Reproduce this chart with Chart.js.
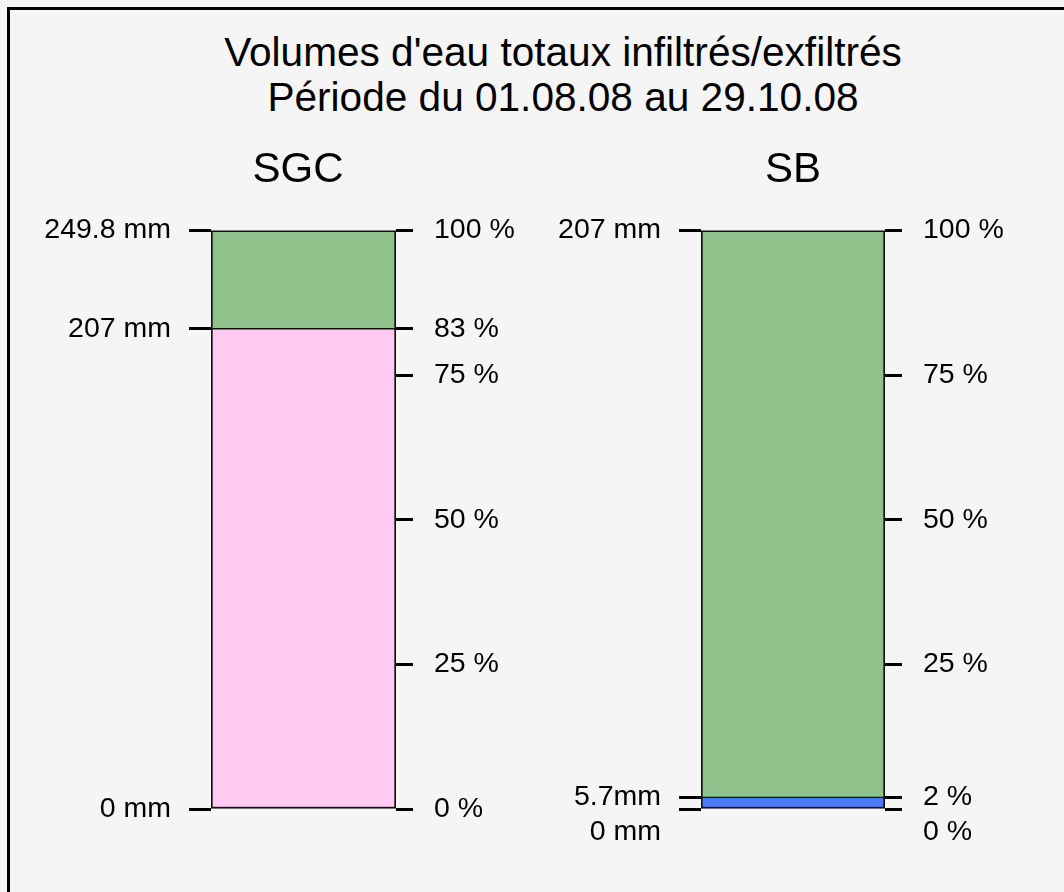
<!DOCTYPE html>
<html lang="fr">
<head>
<meta charset="utf-8">
<title>Volumes d'eau totaux infiltrés/exfiltrés</title>
<script src="https://cdn.jsdelivr.net/npm/chart.js@4/dist/chart.umd.min.js"></script>
<style>
  html, body { margin: 0; padding: 0; width: 1064px; height: 892px; overflow: hidden; background: #f5f5f5; }
  body { position: relative; font-family: "Liberation Sans", Arial, sans-serif; }
  #frame { position: absolute; left: 7px; top: 7px; width: 1200px; height: 1000px;
           border-left: 3px solid #000; border-top: 3px solid #000; box-sizing: border-box; }
  #title { position: absolute; left: 0; top: 30px; width: 1126px; text-align: center;
           font-size: 40.6px; line-height: 45px; color: #000; }
  canvas { position: absolute; }
  #sgc { left: 10px; top: 120px; }
  #sb  { left: 530px; top: 120px; }
</style>
</head>
<body>
<div id="frame"></div>
<div id="title">Volumes d'eau totaux infiltrés/exfiltrés<br>Période du 01.08.08 au 29.10.08</div>
<canvas id="sgc" width="576" height="769"></canvas>
<canvas id="sb" width="526" height="769"></canvas>
<script>
// Panel names
const panels = ['SGC', 'SB'];

// Shares of each bar, in percent of the bar's total volume
const sgcPink  = [83];   // 0 – 207 mm
const sgcGreen = [17];   // 207 – 249.8 mm
const sbBlue   = [2];    // 0 – 5.7 mm
const sbGreen  = [98];   // 5.7 – 207 mm

// Left axis: millimetre marks (position in percent, label)
const sgcMmAt     = [0, 83, 100];
const sgcMmLabels = ['0 mm', '207 mm', '249.8 mm'];
const sbMmAt      = [0, 2, 100];
const sbMmLabels  = ['0 mm', '5.7mm', '207 mm'];

// Right axis: percent marks
const sgcPctAt = [0, 25, 50, 75, 83, 100];
const sbPctAt  = [0, 2, 25, 50, 75, 100];

const GREEN = '#8EC28A';
const PINK  = '#FFC9F2';
const BLUE  = '#4A7BFF';
const INK   = '#000000';
const FONT  = '"Liberation Sans", Arial, sans-serif';

Chart.defaults.font.family = FONT;
Chart.defaults.color = INK;

// Builds one tall 100 % stacked bar with mm marks on the left and % marks on the right
function panelChart(canvasId, name, segments, mmAt, mmLabels, pctAt, leftWidth, rightWidth, dropZero) {
  // the zero labels of a crowded axis are pushed one half line below their mark
  const tickFont = (ctx) => {
    const low = dropZero && ctx.tick && ctx.tick.value === 0;
    return { family: FONT, size: 28.5, lineHeight: low ? 1.6 : 1.2 };
  };
  const label = (text, value) => (dropZero && value === 0) ? ['', text] : text;

  return new Chart(document.getElementById(canvasId), {
    type: 'bar',
    data: {
      labels: [name],
      datasets: segments.map(s => ({
        data: s.data,
        backgroundColor: s.color,
        borderColor: '#111',
        borderWidth: s.border,
        borderSkipped: false,
        barPercentage: 1,
        categoryPercentage: 1
      }))
    },
    options: {
      responsive: false,
      devicePixelRatio: 1,
      animation: false,
      layout: { padding: { top: 0, bottom: 80, left: 0, right: 0 } },
      plugins: {
        legend: { display: false },
        tooltip: { enabled: false },
        title: {
          display: true,
          text: name,
          color: INK,
          font: { family: FONT, size: 42, weight: 'normal' },
          padding: { top: 25, bottom: 35 }
        }
      },
      scales: {
        x: { display: false, stacked: true },
        y: {
          position: 'left',
          stacked: true,
          min: 0, max: 100,
          border: { display: false },
          grid: { drawOnChartArea: false, drawTicks: true, tickLength: 22, tickWidth: 3, tickColor: INK },
          ticks: {
            autoSkip: false,
            padding: 18,
            color: INK,
            font: tickFont,
            callback: (v) => label(mmLabels[mmAt.indexOf(v)], v)
          },
          afterBuildTicks: (scale) => { scale.ticks = mmAt.map(v => ({ value: v })); },
          afterFit: (scale) => { scale.width = leftWidth; }
        },
        yr: {
          position: 'right',
          min: 0, max: 100,
          border: { display: false },
          grid: { drawOnChartArea: false, drawTicks: true, tickLength: 17, tickWidth: 3, tickColor: INK },
          ticks: {
            autoSkip: false,
            padding: 21,
            color: INK,
            font: tickFont,
            callback: (v) => label(v + ' %', v)
          },
          afterBuildTicks: (scale) => { scale.ticks = pctAt.map(v => ({ value: v })); },
          afterFit: (scale) => { scale.width = rightWidth; }
        }
      }
    }
  });
}

panelChart('sgc', panels[0], [
  { data: sgcPink,  color: PINK,  border: { top: 1, bottom: 2, left: 2, right: 2 } },
  { data: sgcGreen, color: GREEN, border: { top: 2, bottom: 1, left: 2, right: 2 } }
], sgcMmAt, sgcMmLabels, sgcPctAt, 201, 190, false);

panelChart('sb', panels[1], [
  { data: sbBlue,  color: BLUE,  border: { top: 1, bottom: 2, left: 2, right: 2 } },
  { data: sbGreen, color: GREEN, border: { top: 2, bottom: 1, left: 2, right: 2 } }
], sbMmAt, sbMmLabels, sbPctAt, 171, 171, true);
</script>
</body>
</html>
